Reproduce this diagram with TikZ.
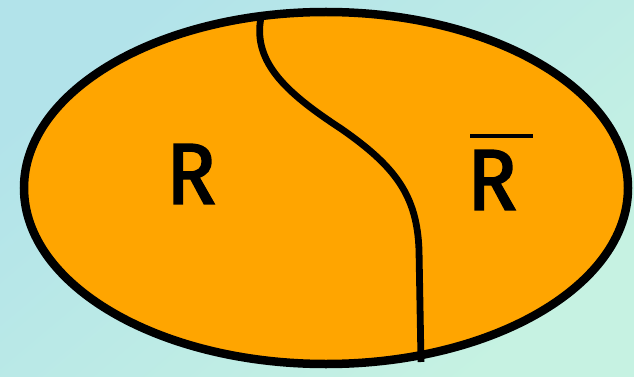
\documentclass[tikz,border=0pt]{standalone}
\usepackage{fontspec}
\setmainfont{Fira Sans}
\newfontfamily\lblfont{Fira Sans}[FakeBold=2.5]
\definecolor{bgA}{HTML}{B2E3EA}
\definecolor{bgB}{HTML}{C6F2E2}
\definecolor{regionfill}{HTML}{FFA500}
\tikzset{
  border/.style={draw=black, line width=8.5pt},
  divider/.style={draw=black, line width=6.8pt},
  lbl/.style={inner sep=0pt, font=\fontsize{86}{86}\lblfont, text=black, xscale=0.95},
}
\begin{document}
\begin{tikzpicture}[x=1pt,y=-1pt]
\useasboundingbox (0,0) rectangle (634,377);
\shade[shading=axis, top color=bgA, bottom color=bgB, shading angle=40] (0,0) rectangle (634,377);
\filldraw[border, fill=regionfill] (326,188) ellipse [x radius=302, y radius=176];
\coordinate (ctop) at (262,13);
\coordinate (cbot) at (421,362);
\draw[divider] (ctop) .. controls (250,60) and (285,92) .. (340,128)
  .. controls (395,166) and (417,195) .. (419,250) -- (cbot);
\node[lbl] (r) at (191,174) {R};
\node[lbl] (rbar) at (492,180) {R};
\draw[line width=4pt] ([xshift=3pt,yshift=14pt]rbar.north west) -- ([xshift=16pt,yshift=14pt]rbar.north east);
\end{tikzpicture}
\end{document}
